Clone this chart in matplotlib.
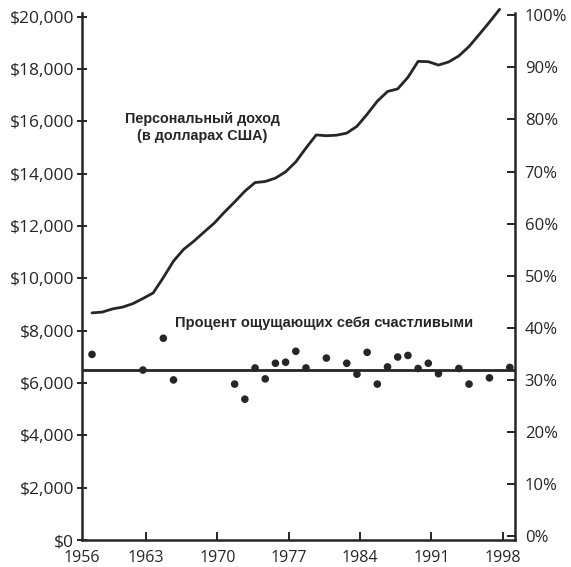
import matplotlib
matplotlib.use("Agg")
import matplotlib.pyplot as plt
from matplotlib.ticker import FuncFormatter

# Personal income per capita, US dollars (1957-1997)
income_years = list(range(1957, 1998))
income_dollars = [
    8680, 8710, 8830, 8900, 9030, 9230, 9440, 10030, 10660, 11110,
    11420, 11770, 12110, 12530, 12920, 13330, 13660, 13700, 13830, 14070,
    14450, 14980, 15480, 15450, 15470, 15550, 15810, 16270, 16770, 17140,
    17240, 17680, 18290, 18280, 18150, 18270, 18500, 18860, 19320, 19790,
    20280,
]

# Share of people describing themselves as "very happy", percent
happy_years = [
    1957, 1962, 1964, 1965, 1971, 1972, 1973, 1974, 1975, 1976,
    1977, 1978, 1980, 1982, 1983, 1984, 1985, 1986, 1987, 1988,
    1989, 1990, 1991, 1993, 1994, 1996, 1998,
]
happy_percent = [
    34.9, 31.9, 38.0, 30.0, 29.2, 26.3, 32.3, 30.2, 33.2, 33.4,
    35.5, 32.3, 34.2, 33.2, 31.1, 35.3, 29.2, 32.5, 34.4, 34.7,
    32.2, 33.2, 31.2, 32.2, 29.2, 30.4, 32.4,
]
happy_level = 32.0

year_ticks = [1963, 1970, 1977, 1984, 1991, 1998]
first_year_label = "1956"
dollar_ticks = list(range(0, 20001, 2000))
percent_ticks = list(range(0, 101, 10))

income_label = "Персональный доход\n(в долларах США)"
happy_label = "Процент ощущающих себя счастливыми"

# survey / income values are plotted slightly after the start of each year
YEAR_SHIFT = 0.7

INK = "#262626"
TICK_FONT = "Open Sans"
NOTE_FONT = "Liberation Sans"

fig = plt.figure(figsize=(5.71, 5.67), dpi=100)
W, H = 571, 567
left_px, right_px, bottom_px, top_px = 81.7, 515.0, 540.0, 13.0
ax = fig.add_axes([left_px / W, 1 - bottom_px / H,
                   (right_px - left_px) / W, (bottom_px - top_px) / H])
ax2 = ax.twinx()

x0 = 1956.69
x1 = 1999.21
ax.set_xlim(x0, x1)
ax.set_ylim(0, 20140)
ax2.set_ylim(-0.73, 100.44)

# income curve
ax.plot([y + YEAR_SHIFT for y in income_years], income_dollars,
        color=INK, lw=2.0, solid_capstyle="round", solid_joinstyle="round",
        clip_on=False, zorder=3)

# happiness points and reference level
ax2.axhline(happy_level, color=INK, lw=2.0, zorder=2)
ax2.scatter([y + YEAR_SHIFT for y in happy_years], happy_percent,
            s=30, color=INK, edgecolors="none", zorder=4, clip_on=False)

# x axis
ax.set_xticks([x0] + year_ticks)
ax.set_xticklabels([first_year_label] + [str(y) for y in year_ticks])
ax.tick_params(axis="x", direction="in", length=6, width=1.4, color=INK,
               pad=7.5, labelsize=11.5, labelcolor=INK)
ax.xaxis.get_major_ticks()[0].tick1line.set_visible(False)

# left dollar axis
ax.set_yticks(dollar_ticks)
ax.yaxis.set_major_formatter(FuncFormatter(lambda v, _: f"${int(v):,}"))
ax.tick_params(axis="y", direction="inout", length=7, width=1.4, color=INK,
               pad=2, labelsize=12.5, labelcolor=INK)

# right percent axis
ax2.set_yticks(percent_ticks)
ax2.yaxis.set_major_formatter(FuncFormatter(lambda v, _: f"{int(v)}%"))
ax2.tick_params(axis="y", direction="in", length=6, width=1.4, color=INK,
                pad=7, labelsize=12, labelcolor=INK)

for lab in ax.get_xticklabels() + ax.get_yticklabels() + ax2.get_yticklabels():
    lab.set_fontfamily(TICK_FONT)

for a in (ax, ax2):
    a.spines["top"].set_visible(False)
    for side in ("left", "right", "bottom"):
        a.spines[side].set_linewidth(1.8)
        a.spines[side].set_color(INK)
ax.spines["right"].set_visible(False)
ax2.spines["left"].set_visible(False)
ax2.spines["bottom"].set_visible(False)

fig.text(202.5 / W, 1 - 127.5 / H, income_label, ha="center", va="center",
         fontsize=10.4, fontweight="bold", family=NOTE_FONT, color=INK,
         linespacing=1.2)
fig.text(324.2 / W, 1 - 323.5 / H, happy_label, ha="center", va="center",
         fontsize=10.5, fontweight="bold", family=NOTE_FONT, color=INK)

fig.savefig("out.png", dpi=100, facecolor="white")
